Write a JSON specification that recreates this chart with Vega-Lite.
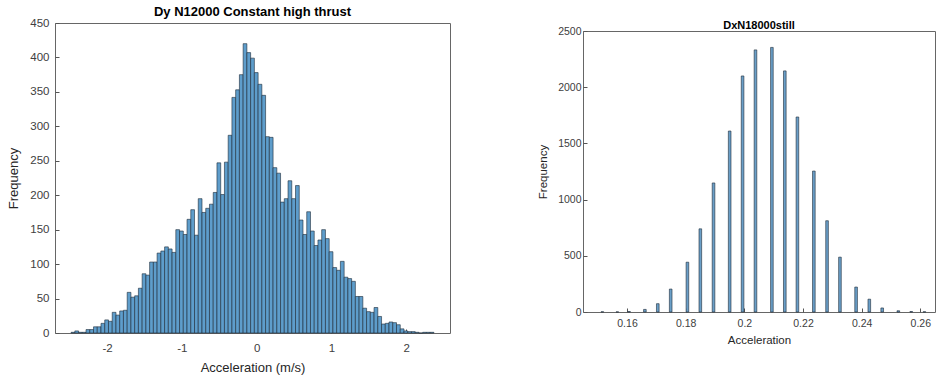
{
  "$schema": "https://vega.github.io/schema/vega-lite/v6.json",
  "background": "white",
  "padding": {"left": 7, "top": 5, "right": 0, "bottom": 0},
  "spacing": 86,
  "config": {
    "font": "Liberation Sans",
    "view": {"stroke": "#666666", "strokeWidth": 1},
    "axis": {
      "grid": false,
      "domain": false,
      "tickSize": -4,
      "tickColor": "#555555",
      "labelColor": "#404040",
      "titleColor": "#262626",
      "titleFontWeight": "normal"
    },
    "title": {"color": "#000000", "fontWeight": "bold", "anchor": "middle"}
  },
  "hconcat": [
    {
      "spacing": 0,
      "vconcat": [
        {
          "width": 395,
          "height": 310,
          "title": {"text": "Dy N12000 Constant high thrust", "fontSize": 13, "offset": -2},
          "data": {"values": [
            {"a":-2.48,"b":-2.43,"n":1},{"a":-2.43,"b":-2.38,"n":3},{"a":-2.38,"b":-2.33,"n":1},{"a":-2.33,"b":-2.28,"n":1},
            {"a":-2.28,"b":-2.23,"n":5},{"a":-2.23,"b":-2.18,"n":5},{"a":-2.18,"b":-2.13,"n":9},{"a":-2.13,"b":-2.08,"n":9},
            {"a":-2.08,"b":-2.03,"n":14},{"a":-2.03,"b":-1.98,"n":19},{"a":-1.98,"b":-1.93,"n":17},{"a":-1.93,"b":-1.88,"n":30},
            {"a":-1.88,"b":-1.83,"n":26},{"a":-1.83,"b":-1.78,"n":32},{"a":-1.78,"b":-1.73,"n":33},{"a":-1.73,"b":-1.68,"n":59},
            {"a":-1.68,"b":-1.63,"n":52},{"a":-1.63,"b":-1.58,"n":54},{"a":-1.58,"b":-1.53,"n":65},{"a":-1.53,"b":-1.48,"n":86},
            {"a":-1.48,"b":-1.43,"n":84},{"a":-1.43,"b":-1.38,"n":103},{"a":-1.38,"b":-1.33,"n":103},{"a":-1.33,"b":-1.28,"n":116},
            {"a":-1.28,"b":-1.23,"n":119},{"a":-1.23,"b":-1.18,"n":125},{"a":-1.18,"b":-1.13,"n":122},{"a":-1.13,"b":-1.08,"n":117},
            {"a":-1.08,"b":-1.03,"n":150},{"a":-1.03,"b":-0.98,"n":148},{"a":-0.98,"b":-0.93,"n":143},{"a":-0.93,"b":-0.88,"n":165},
            {"a":-0.88,"b":-0.83,"n":179},{"a":-0.83,"b":-0.78,"n":142},{"a":-0.78,"b":-0.73,"n":195},{"a":-0.73,"b":-0.68,"n":175},
            {"a":-0.68,"b":-0.63,"n":181},{"a":-0.63,"b":-0.58,"n":187},{"a":-0.58,"b":-0.53,"n":204},{"a":-0.53,"b":-0.48,"n":247},
            {"a":-0.48,"b":-0.43,"n":201},{"a":-0.43,"b":-0.38,"n":248},{"a":-0.38,"b":-0.33,"n":287},{"a":-0.33,"b":-0.28,"n":342},
            {"a":-0.28,"b":-0.23,"n":353},{"a":-0.23,"b":-0.18,"n":375},{"a":-0.18,"b":-0.13,"n":420},{"a":-0.13,"b":-0.08,"n":407},
            {"a":-0.08,"b":-0.03,"n":399},{"a":-0.03,"b":0.02,"n":378},{"a":0.02,"b":0.07,"n":361},{"a":0.07,"b":0.12,"n":345},
            {"a":0.12,"b":0.17,"n":285},{"a":0.17,"b":0.22,"n":284},{"a":0.22,"b":0.27,"n":240},{"a":0.27,"b":0.32,"n":232},
            {"a":0.32,"b":0.37,"n":190},{"a":0.37,"b":0.42,"n":195},{"a":0.42,"b":0.47,"n":221},{"a":0.47,"b":0.52,"n":195},
            {"a":0.52,"b":0.57,"n":214},{"a":0.57,"b":0.62,"n":164},{"a":0.62,"b":0.67,"n":143},{"a":0.67,"b":0.72,"n":176},
            {"a":0.72,"b":0.77,"n":148},{"a":0.77,"b":0.82,"n":127},{"a":0.82,"b":0.87,"n":135},{"a":0.87,"b":0.92,"n":150},
            {"a":0.92,"b":0.97,"n":137},{"a":0.97,"b":1.02,"n":118},{"a":1.02,"b":1.07,"n":95},{"a":1.07,"b":1.12,"n":91},
            {"a":1.12,"b":1.17,"n":104},{"a":1.17,"b":1.22,"n":81},{"a":1.22,"b":1.27,"n":79},{"a":1.27,"b":1.32,"n":75},
            {"a":1.32,"b":1.37,"n":53},{"a":1.37,"b":1.42,"n":53},{"a":1.42,"b":1.47,"n":36},{"a":1.47,"b":1.52,"n":31},
            {"a":1.52,"b":1.57,"n":30},{"a":1.57,"b":1.62,"n":37},{"a":1.62,"b":1.67,"n":24},{"a":1.67,"b":1.72,"n":13},
            {"a":1.72,"b":1.77,"n":14},{"a":1.77,"b":1.82,"n":16},{"a":1.82,"b":1.87,"n":15},{"a":1.87,"b":1.92,"n":12},
            {"a":1.92,"b":1.97,"n":6},{"a":1.97,"b":2.02,"n":3},{"a":2.02,"b":2.07,"n":2},{"a":2.07,"b":2.12,"n":2},
            {"a":2.12,"b":2.17,"n":1},{"a":2.17,"b":2.22,"n":0},{"a":2.22,"b":2.27,"n":1},{"a":2.27,"b":2.32,"n":1},
            {"a":2.32,"b":2.37,"n":1}
          ]},
          "mark": {"type": "rect", "fill": "#5e9dcb", "stroke": "#1c2a38", "strokeWidth": 0.6},
          "encoding": {
            "x": {"field": "a", "type": "quantitative",
              "scale": {"domain": [-2.695, 2.585], "nice": false, "zero": false},
              "axis": {"values": [-2, -1, 0, 1, 2], "labelExpr": "datum.value", "title": "Acceleration (m/s)",
                "labelFontSize": 11.5, "titleFontSize": 13, "labelPadding": 13, "titlePadding": 8}},
            "x2": {"field": "b"},
            "y": {"field": "n", "type": "quantitative",
              "scale": {"domain": [0, 450], "nice": false},
              "axis": {"values": [0, 50, 100, 150, 200, 250, 300, 350, 400, 450], "format": "d", "title": "Frequency",
                "labelFontSize": 11.5, "titleFontSize": 13, "labelPadding": 10, "titlePadding": 9}},
            "y2": {"datum": 0}
          }
        }
      ]
    },
    {
      "spacing": -8,
      "vconcat": [
        {
          "width": 352,
          "height": 6,
          "view": {"stroke": null},
          "title": {"text": "DxN18000still", "fontSize": 11, "offset": -8},
          "data": {"values": []},
          "mark": {"type": "text"},
          "encoding": {}
        },
        {
          "width": 352,
          "height": 281,
          "data": {"values": [
            {"a":0.15115,"b":0.15205,"n":2},{"a":0.15625,"b":0.15715,"n":1},{"a":0.16025,"b":0.16115,"n":4},
            {"a":0.16565,"b":0.16655,"n":23},{"a":0.17005,"b":0.17095,"n":74},{"a":0.17445,"b":0.17535,"n":204},
            {"a":0.18015,"b":0.18105,"n":443},{"a":0.18455,"b":0.18545,"n":740},{"a":0.18905,"b":0.18995,"n":1148},
            {"a":0.19455,"b":0.19545,"n":1610},{"a":0.19895,"b":0.19985,"n":2100},{"a":0.20335,"b":0.20425,"n":2332},
            {"a":0.20895,"b":0.20985,"n":2354},{"a":0.21335,"b":0.21425,"n":2145},{"a":0.21765,"b":0.21855,"n":1735},
            {"a":0.22325,"b":0.22415,"n":1254},{"a":0.22775,"b":0.22865,"n":812},{"a":0.23215,"b":0.23305,"n":488},
            {"a":0.23765,"b":0.23855,"n":222},{"a":0.24215,"b":0.24305,"n":114},{"a":0.24655,"b":0.24745,"n":36},
            {"a":0.25205,"b":0.25295,"n":11},{"a":0.25645,"b":0.25735,"n":4},{"a":0.26095,"b":0.26185,"n":2}
          ]},
          "mark": {"type": "rect", "fill": "#6a9fc8", "stroke": "#1c2a38", "strokeWidth": 0.6},
          "encoding": {
            "x": {"field": "a", "type": "quantitative",
              "scale": {"domain": [0.145, 0.265], "nice": false, "zero": false},
              "axis": {"values": [0.16, 0.18, 0.2, 0.22, 0.24, 0.26], "format": "~g", "title": "Acceleration",
                "labelFontSize": 10.5, "titleFontSize": 11.5, "labelPadding": 10, "titlePadding": 6}},
            "x2": {"field": "b"},
            "y": {"field": "n", "type": "quantitative",
              "scale": {"domain": [0, 2500], "nice": false},
              "axis": {"values": [0, 500, 1000, 1500, 2000, 2500], "format": "d", "title": "Frequency",
                "labelFontSize": 10.5, "titleFontSize": 11.5, "labelPadding": 6, "titlePadding": 9}},
            "y2": {"datum": 0}
          }
        }
      ]
    }
  ]
}
